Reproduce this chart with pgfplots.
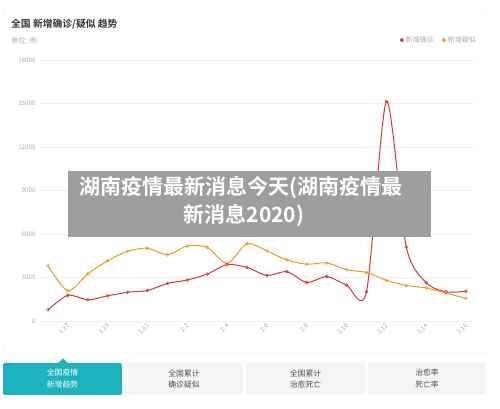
\documentclass[border=0pt]{standalone}
\usepackage{fontspec}
\setmainfont{Noto Sans CJK SC}[BoldFont={Noto Sans CJK SC Bold}]
\usepackage{pgfplots}
\pgfplotsset{compat=1.18}
\definecolor{cred}{HTML}{D8343F}
\definecolor{corange}{HTML}{EE9A26}
\definecolor{tickgray}{HTML}{ABABAB}
\definecolor{gridgray}{HTML}{F0F0F0}
\definecolor{teal1}{HTML}{1DB3BE}
\definecolor{tabgray}{HTML}{F4F5F7}
\definecolor{boxgray}{HTML}{9E9E9E}
\begin{document}
\begin{tikzpicture}
\fill[white] (0pt,0pt) rectangle (500pt,409pt);
% card
\draw[draw=black!9, rounded corners=2pt] (3pt,56pt) rectangle (488pt,399pt);
\node[anchor=west, inner sep=0pt, font=\fontsize{9.8}{11}\selectfont\bfseries, text=black!80] at (11pt,385pt) {全国 新增确诊/疑似 趋势};
\node[anchor=west, inner sep=0pt, font=\fontsize{7.2}{9}\selectfont, text=tickgray] at (11pt,368pt) {单位: 例};
\begin{axis}[
  at={(40pt,88pt)}, anchor=south west,
  scale only axis, width=435pt, height=261pt,
  xmin=-0.4, xmax=21.45, ymin=0, ymax=18000,
  axis line style={draw=none},
  major tick style={draw=none},
  ymajorgrids, grid style={gridgray, line width=0.6pt},
  ytick={0,3000,6000,9000,12000,15000,18000},
  yticklabel style={font=\fontsize{6.2}{7}\selectfont, text=tickgray, xshift=-1pt},
  scaled y ticks=false,
  /pgf/number format/assume math mode=true,
  /pgf/number format/1000 sep={},
  xtick={1,3,5,7,9,11,13,15,17,19,21},
  xticklabels={1.27,1.29,1.31,2.2,2.4,2.6,2.8,2.10,2.12,2.14,2.16},
  xticklabel style={font=\fontsize{6.2}{7}\selectfont, text=tickgray, rotate=45, anchor=east, xshift=1pt, yshift=-3pt},
  legend columns=2,
  legend style={at={(1,1)}, anchor=south east, xshift=6pt, yshift=12pt, draw=none, fill=none,
    font=\fontsize{7}{8}\selectfont, text=tickgray,
    /tikz/every even column/.append style={column sep=6pt}},
  legend image code/.code={\fill[#1] (2pt,0pt) circle (1.5pt);},
  legend cell align=left,
]
\addplot[cred, line width=1pt, smooth, tension=0.45, mark=o, mark size=1.5pt, mark options={fill=white, line width=0.5pt}]
coordinates {(0,769)(1,1771)(2,1459)(3,1737)(4,1982)(5,2102)(6,2590)(7,2829)(8,3235)(9,3887)(10,3694)(11,3143)(12,3399)(13,2656)(14,3062)(15,2478)(16,2015)(17,15152)(18,5090)(19,2641)(20,2009)(21,2048)};
\addlegendentry{新增确诊}
\addplot[corange, line width=1pt, smooth, tension=0.45, mark=o, mark size=1.5pt, mark options={fill=white, line width=0.5pt}]
coordinates {(0,3806)(1,2077)(2,3248)(3,4148)(4,4812)(5,5019)(6,4562)(7,5173)(8,5072)(9,3971)(10,5328)(11,4833)(12,4214)(13,3916)(14,4008)(15,3536)(16,3342)(17,2807)(18,2450)(19,2277)(20,1918)(21,1563)};
\addlegendentry{新增疑似}
\end{axis}
% overlay box
\fill[boxgray] (68pt,172pt) rectangle (431pt,238pt);
\node[inner sep=0pt, font=\fontsize{21}{24}\selectfont\bfseries, text=white] at (241pt,221pt) {湖南疫情最新消息今天(湖南疫情最};
\node[inner sep=0pt, font=\fontsize{21}{24}\selectfont\bfseries, text=white] at (244pt,193pt) {新消息2020)};
% tabs
\fill[teal1, rounded corners=2pt] (3pt,14pt) rectangle (122pt,46pt);
\fill[teal1] (58pt,45.5pt) -- (63pt,50.5pt) -- (68pt,45.5pt) -- cycle;
\fill[tabgray, rounded corners=2pt] (125pt,14pt) rectangle (243pt,46pt);
\fill[tabgray, rounded corners=2pt] (246pt,14pt) rectangle (365pt,46pt);
\fill[tabgray, rounded corners=2pt] (368pt,14pt) rectangle (486pt,46pt);
\begin{scope}[every node/.style={inner sep=0pt, font=\fontsize{7.8}{9}\selectfont}]
\node[text=white] at (62.5pt,36pt) {全国疫情};
\node[text=white] at (62.5pt,24pt) {新增趋势};
\node[text=black!70] at (184pt,36pt) {全国累计};
\node[text=black!70] at (184pt,24pt) {确诊疑似};
\node[text=black!70] at (305.5pt,36pt) {全国累计};
\node[text=black!70] at (305.5pt,24pt) {治愈死亡};
\node[text=black!70] at (427pt,36pt) {治愈率};
\node[text=black!70] at (427pt,24pt) {死亡率};
\end{scope}
\end{tikzpicture}
\end{document}
